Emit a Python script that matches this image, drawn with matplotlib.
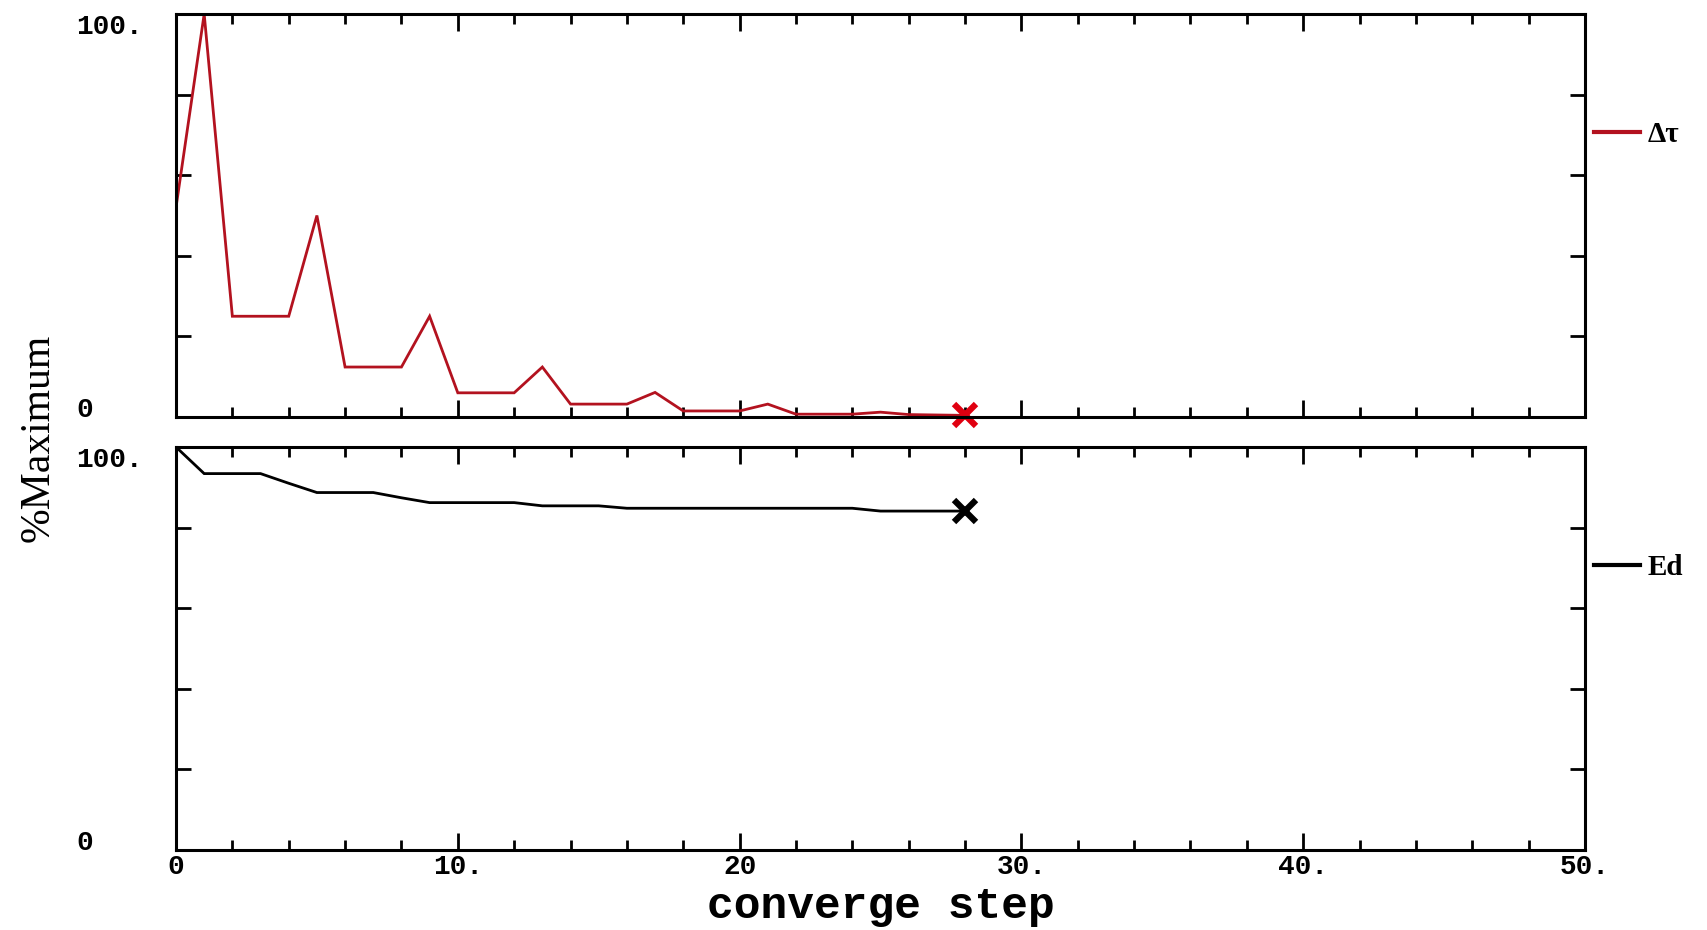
import matplotlib
matplotlib.use("Agg")
import matplotlib.pyplot as plt
from matplotlib.ticker import MultipleLocator

# ---- data ----
steps = list(range(0, 29))
dtau = [52, 100, 25, 25, 25, 50, 12.4, 12.4, 12.4, 25, 6, 6, 6, 12.4,
        3.2, 3.2, 3.2, 6.1, 1.5, 1.5, 1.5, 3.2, 0.7, 0.7, 0.7, 1.2, 0.6, 0.5, 0.4]
ed = [100, 93.4, 93.4, 93.4, 91.0, 88.7, 88.7, 88.7, 87.4, 86.2, 86.2, 86.2, 86.2,
      85.4, 85.4, 85.4, 84.8, 84.8, 84.8, 84.8, 84.8, 84.8, 84.8, 84.8, 84.8,
      84.1, 84.1, 84.1, 84.1]
xticks_major = [0, 10, 20, 30, 40, 50]
xtick_labels = ["0", "10.", "20", "30.", "40.", "50."]
ytick_vals = [0, 20, 40, 60, 80, 100]
ytick_labels = ["0", "", "", "", "", "100."]
series_labels = ["\u0394\u03c4", "Ed"]
series_colors = ["#b3121f", "black"]
marker_colors = ["#e00010", "black"]

mono = ["Liberation Mono", "DejaVu Sans Mono"]
serif = ["Liberation Serif", "DejaVu Serif"]

fig = plt.figure(figsize=(17.08, 9.30), dpi=100)
L, R = 176 / 1708, 1585 / 1708
ax1 = fig.add_axes([L, 1 - 417 / 930, R - L, 403 / 930])
ax2 = fig.add_axes([L, 1 - 850 / 930, R - L, 403 / 930])

data = [dtau, ed]
for i, ax in enumerate([ax1, ax2]):
    y = data[i]
    ax.plot(steps, y, color=series_colors[i], lw=2.0, label=series_labels[i],
            solid_joinstyle="miter")
    ax.plot(steps[-1:], y[-1:], linestyle="none", marker="x", markersize=16,
            markeredgewidth=4.5, color=marker_colors[i], clip_on=False)
    ax.set_xlim(0, 50)
    ax.set_ylim(0, 100)
    for s in ax.spines.values():
        s.set_linewidth(2.2)
    ax.xaxis.set_major_locator(MultipleLocator(10))
    ax.xaxis.set_minor_locator(MultipleLocator(2))
    ax.set_yticks(ytick_vals)
    ax.set_yticklabels(ytick_labels)
    labs = ax.get_yticklabels()
    for lab in labs:
        lab.set_horizontalalignment("left")
        lab.set_fontfamily(mono)
        lab.set_fontweight("bold")
        lab.set_fontsize(20)
    labs[0].set_verticalalignment("baseline")
    labs[-1].set_verticalalignment("top")
    ax.tick_params(axis="both", which="both", direction="in",
                   top=True, right=True, width=2.0)
    ax.tick_params(axis="x", which="major", length=12)
    ax.tick_params(axis="x", which="minor", length=7)
    ax.tick_params(axis="y", which="major", length=11, pad=72)
    leg = ax.legend(loc="center left", bbox_to_anchor=(1.0, 0.70),
                    frameon=False, handlelength=1.6, handletextpad=0.25,
                    borderaxespad=0.3, borderpad=0.0,
                    prop={"family": serif, "weight": "bold", "size": 21})
    for h in leg.get_lines():
        h.set_linewidth(3.0)

ax1.set_xticks(xticks_major)
ax1.set_xticklabels([])
ax2.set_xticks(xticks_major)
ax2.set_xticklabels(xtick_labels, fontfamily=mono, fontweight="bold", fontsize=20)
ax2.tick_params(axis="x", which="major", pad=3)

ax2.set_xlabel("converge step", fontfamily=mono, fontsize=32,
               fontweight="semibold", va="center")
ax2.xaxis.set_label_coords(0.5, -0.14)
fig.text(38 / 1708, 0.529, "%Maximum", rotation=90, ha="center", va="center",
         fontfamily=serif, fontsize=30)

fig.savefig("out.png", dpi=100)
